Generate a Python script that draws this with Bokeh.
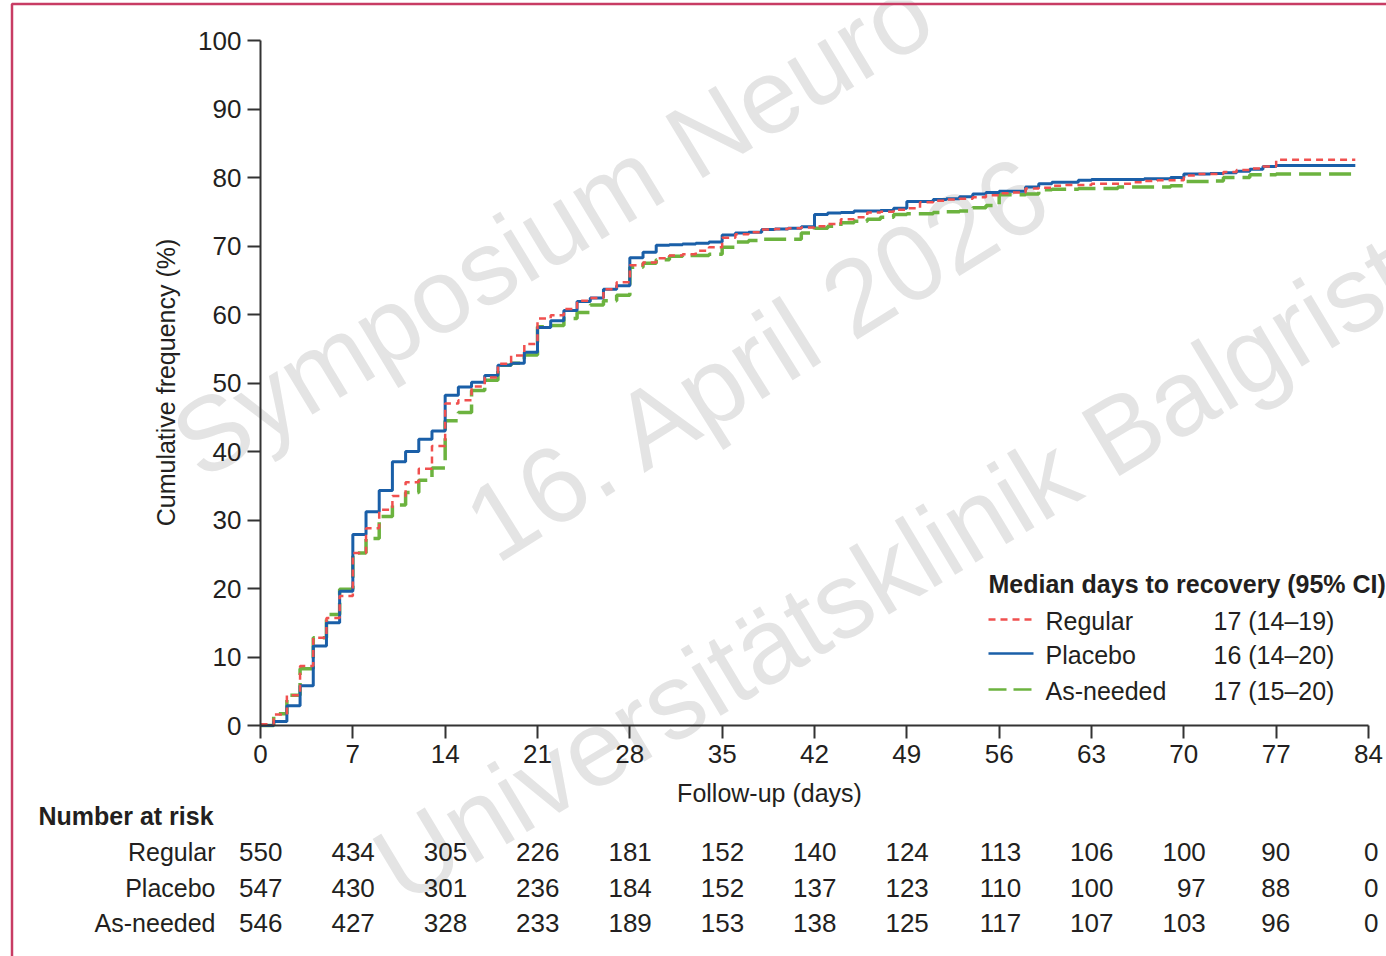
import math
from bokeh.plotting import figure
from bokeh.models import Range1d, LinearAxis, FixedTicker, ColumnDataSource
from bokeh.core.properties import value
from bokeh.embed import file_html
from bokeh.resources import INLINE

# ---------------- data ----------------
days = list(range(0, 78)) + [83]

placebo = [0, 0.6, 2.9, 5.8, 11.6, 15.0, 19.6, 27.9, 31.2, 34.3,
           38.5, 40.0, 41.8, 43.0, 48.2, 49.4, 50.1, 51.1, 52.6, 52.9,
           54.5, 58.1, 59.1, 60.6, 61.9, 62.4, 63.7, 64.2, 68.3, 69.1,
           70.1, 70.2, 70.3, 70.4, 70.6, 71.6, 71.9, 72.0, 72.4, 72.5,
           72.6, 72.8, 74.6, 74.8, 74.9, 75.1, 75.1, 75.2, 75.5, 76.5,
           76.5, 76.8, 76.9, 77.2, 77.6, 77.8, 78.0, 78.0, 78.6, 79.1,
           79.3, 79.3, 79.6, 79.7, 79.7, 79.7, 79.7, 79.8, 79.8, 80.0,
           80.5, 80.5, 80.6, 80.7, 80.9, 81.2, 81.6, 81.75, 81.75]

regular = [0.2, 1.6, 4.4, 8.7, 12.8, 15.7, 18.9, 25.2, 28.8, 31.5,
           33.5, 35.5, 37.5, 40.8, 47.0, 47.5, 49.5, 50.8, 52.8, 54.0,
           55.7, 59.4, 59.9, 60.8, 62.0, 62.4, 63.7, 64.7, 67.2, 67.6,
           68.2, 68.6, 68.8, 69.3, 69.8, 71.2, 71.7, 72.0, 72.4, 72.5,
           72.6, 72.7, 72.9, 73.2, 73.9, 74.2, 74.9, 75.0, 75.3, 75.5,
           76.4, 76.6, 76.8, 76.9, 77.1, 77.4, 77.7, 77.8, 78.4, 78.5,
           78.8, 78.9, 78.9, 79.1, 79.1, 79.1, 79.3, 79.5, 79.6, 79.6,
           80.3, 80.5, 80.5, 80.8, 81.1, 81.3, 81.6, 82.6, 82.6]

asneeded = [0, 1.7, 4.4, 8.3, 12.8, 16.2, 19.9, 25.2, 27.3, 30.5,
            32.2, 34.0, 35.8, 37.6, 44.5, 45.7, 48.9, 50.4, 52.6, 52.9,
            54.1, 58.2, 58.4, 59.4, 60.3, 61.4, 62.0, 62.8, 66.9, 67.5,
            68.0, 68.5, 68.6, 68.6, 68.8, 69.8, 70.6, 70.8, 71.0, 71.0,
            71.0, 71.9, 72.6, 72.9, 73.4, 73.6, 73.9, 74.2, 74.6, 74.7,
            74.7, 74.9, 75.0, 75.1, 75.6, 75.9, 77.5, 77.5, 77.6, 78.2,
            78.3, 78.3, 78.4, 78.4, 78.4, 78.6, 78.6, 78.6, 78.6, 78.8,
            79.4, 79.4, 79.5, 80.0, 80.0, 80.4, 80.4, 80.5, 80.5]

x_ticks = [0, 7, 14, 21, 28, 35, 42, 49, 56, 63, 70, 77, 84]
y_ticks = [0, 10, 20, 30, 40, 50, 60, 70, 80, 90, 100]

groups = ["Regular", "Placebo", "As-needed"]
medians = ["17 (14\u201319)", "16 (14\u201320)", "17 (15\u201320)"]

risk_days = x_ticks
risk_regular = [550, 434, 305, 226, 181, 152, 140, 124, 113, 106, 100, 90, 0]
risk_placebo = [547, 430, 301, 236, 184, 152, 137, 123, 110, 100, 97, 88, 0]
risk_asneeded = [546, 427, 328, 233, 189, 153, 138, 125, 117, 107, 103, 96, 0]

watermark = ["Symposium Neuro", "16. April 2026", "Universit\u00e4tsklinik Balgrist"]

# ---------------- layout helpers (pixel -> data) ----------------
W, H = 1386, 956
X0, XPD = 260.0, (1368.0 - 260.0) / 84.0
Y0, YPP = 725.0, (725.0 - 40.0) / 100.0


def dx(px):
    return (px - X0) / XPD


def dy(py):
    return (Y0 - py) / YPP


FONT = value("Liberation Sans")
TXT = "#231f20"
C_REG, C_PLA, C_ASN = "#f0504f", "#1a5fa8", "#6cb33f"

p = figure(width=W, height=H, output_backend="svg", toolbar_location=None,
           x_range=Range1d(dx(0), dx(W)), y_range=Range1d(dy(H), dy(0)),
           x_axis_type=None, y_axis_type=None, min_border=0)
p.outline_line_color = None
p.background_fill_color = "white"
p.border_fill_color = "white"

# ---------------- watermark ----------------
wm_pos = [(182, 450), (476, 533), (384, 874)]
wm_ang = [math.radians(31.2), math.radians(32.0), math.radians(31.0)]
wm_size = ["105px", "108px", "107px"]
wm_src = ColumnDataSource(dict(x=[dx(a) for a, b in wm_pos], y=[dy(b) for a, b in wm_pos],
                               text=watermark, angle=wm_ang, fs=wm_size))
p.text(x="x", y="y", text="text", angle="angle", text_font_size="fs", source=wm_src,
       text_align="left", text_baseline="alphabetic",
       text_font=FONT, text_color="#e4e4e4")

# ---------------- frame border (top & left) ----------------
p.line(x=[dx(11.5), dx(11.5), dx(W + 10)], y=[dy(H + 10), dy(3.5), dy(3.5)],
       line_color="#c83c64", line_width=2.5)

# ---------------- axes ----------------
xaxis = LinearAxis(fixed_location=0, bounds=(0, 84), ticker=FixedTicker(ticks=x_ticks))
yaxis = LinearAxis(fixed_location=0, bounds=(0, 100), ticker=FixedTicker(ticks=y_ticks))
for ax in (xaxis, yaxis):
    ax.axis_line_color = "#333333"
    ax.axis_line_width = 2
    ax.major_tick_line_color = "#333333"
    ax.major_tick_line_width = 2
    ax.major_tick_out = 13
    ax.major_tick_in = 0
    ax.minor_tick_line_color = None
    ax.major_label_text_font = "Liberation Sans"
    ax.major_label_text_font_size = "26px"
    ax.major_label_text_color = TXT
xaxis.major_label_standoff = 6
yaxis.major_label_standoff = 6
p.add_layout(xaxis, "below")
p.add_layout(yaxis, "left")

# ---------------- curves ----------------
src = ColumnDataSource(dict(day=days, reg=regular, pla=placebo, asn=asneeded))
p.step(x="day", y="asn", source=src, mode="after", line_color=C_ASN,
       line_width=3.5, line_dash="22 8")
p.step(x="day", y="pla", source=src, mode="after", line_color=C_PLA,
       line_width=3)
p.step(x="day", y="reg", source=src, mode="after", line_color=C_REG,
       line_width=2.5, line_dash="7 5")

# ---------------- axis titles ----------------
p.text(x=[dx(165)], y=[dy(382)], text=["Cumulative frequency (%)"], angle=math.pi / 2,
       text_align="center", text_baseline="middle", text_font=FONT,
       text_font_size=value("25px"), text_color=TXT)
p.text(x=[dx(769)], y=[dy(792)], text=["Follow-up (days)"],
       text_align="center", text_baseline="middle", text_font=FONT,
       text_font_size=value("25px"), text_color=TXT)

# ---------------- legend ----------------
p.text(x=[dx(988)], y=[dy(583)], text=["Median days to recovery (95% CI)"],
       text_align="left", text_baseline="middle", text_font=FONT,
       text_font_size=value("25px"), text_font_style="bold", text_color=TXT)
leg_y = [620, 654, 690]
leg_style = [(C_REG, 2.5, "7 5"), (C_PLA, 2.5, "solid"), (C_ASN, 2.5, "18 7")]
for yy, (c, w, d) in zip(leg_y, leg_style):
    p.line(x=[dx(988), dx(1033)], y=[dy(yy - 1), dy(yy - 1)], line_color=c,
           line_width=w, line_dash=d)
p.text(x=[dx(1045)] * 3, y=[dy(v) for v in leg_y], text=groups,
       text_align="left", text_baseline="middle", text_font=FONT,
       text_font_size=value("25px"), text_color=TXT)
p.text(x=[dx(1213)] * 3, y=[dy(v) for v in leg_y], text=medians,
       text_align="left", text_baseline="middle", text_font=FONT,
       text_font_size=value("25px"), text_color=TXT)

# ---------------- number at risk ----------------
p.text(x=[dx(38)], y=[dy(815)], text=["Number at risk"],
       text_align="left", text_baseline="middle", text_font=FONT,
       text_font_size=value("25px"), text_font_style="bold", text_color=TXT)
row_y = [851, 887, 922]
p.text(x=[dx(215)] * 3, y=[dy(v) for v in row_y], text=groups,
       text_align="right", text_baseline="middle", text_font=FONT,
       text_font_size=value("25px"), text_color=TXT)
right_off = [22] * 11 + [14, 10]
for yy, row in zip(row_y, [risk_regular, risk_placebo, risk_asneeded]):
    p.text(x=[d + o / XPD for d, o in zip(risk_days, right_off)], y=[dy(yy)] * len(row),
           text=[str(v) for v in row], text_align="right", text_baseline="middle",
           text_font=FONT, text_font_size=value("26px"), text_color=TXT)

open("out.html", "w").write(file_html(p, INLINE))
